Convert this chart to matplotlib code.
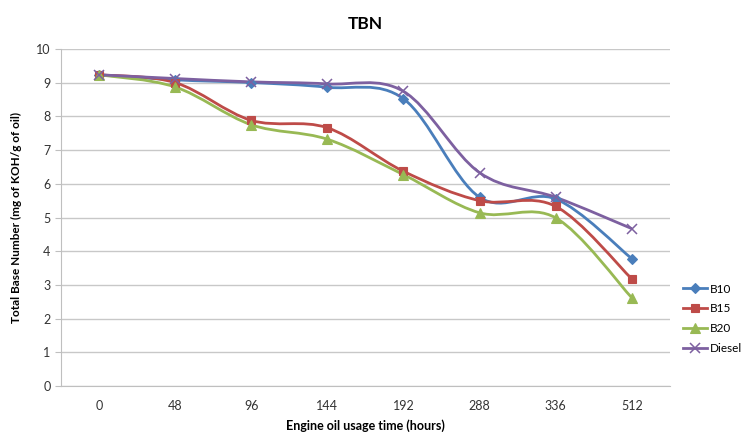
import numpy as np
import matplotlib.pyplot as plt
from matplotlib.path import Path
from matplotlib.patches import PathPatch

plt.rcParams['font.family'] = ['Lato', 'DejaVu Sans']

##### DATA ######
hours = ['0', '48', '96', '144', '192', '288', '336', '512']
b10 = [9.23, 9.08, 9.0, 8.86, 8.52, 5.6, 5.55, 3.78]
b15 = [9.23, 9.0, 7.88, 7.66, 6.37, 5.5, 5.33, 3.18]
b20 = [9.23, 8.87, 7.75, 7.32, 6.27, 5.14, 4.99, 2.62]
diesel = [9.23, 9.12, 9.02, 8.96, 8.74, 6.33, 5.6, 4.67]

series = [('B10', b10, '#4A7EBB', 'D', 5),
          ('B15', b15, '#BE4B48', 's', 6),
          ('B20', b20, '#98B954', '^', 7),
          ('Diesel', diesel, '#7D60A0', 'x', 7)]


def smooth_path(x, y):
    # excel style smoothed line: cubic bezier segments (catmull-rom control points)
    pts = np.column_stack([x, y]).astype(float)
    n = len(pts)
    verts = [pts[0]]
    codes = [Path.MOVETO]
    for i in range(n - 1):
        p0 = pts[i - 1] if i > 0 else pts[i]
        p1 = pts[i]
        p2 = pts[i + 1]
        p3 = pts[i + 2] if i + 2 < n else pts[i + 1]
        c1 = p1 + (p2 - p0) / 6.0
        c2 = p2 - (p3 - p1) / 6.0
        verts += [c1, c2, p2]
        codes += [Path.CURVE4] * 3
    return Path(verts, codes)


fig = plt.figure(figsize=(7.51, 4.32), dpi=100)
ax = fig.add_axes([0.081, 0.106, 0.811, 0.781])

xpos = np.arange(len(hours))
for name, vals, col, mk, ms in series:
    patch = PathPatch(smooth_path(xpos, vals), facecolor='none', edgecolor=col,
                      lw=2.0, zorder=3)
    ax.add_patch(patch)
    # markers only, the curve is the patch underneath
    ax.plot(xpos, vals, linestyle='none', color=col, marker=mk, ms=ms,
            mew=1.1 if mk == 'x' else 0.8, label=name, zorder=4)

# legend handles with lines
handles = [plt.Line2D([], [], color=c, lw=2.0, marker=m, ms=s,
                      mew=1.1 if m == 'x' else 0.8)
           for _, _, c, m, s in series]
fig.legend(handles, [s[0] for s in series], loc='upper left',
           bbox_to_anchor=(0.9, 0.36), frameon=False, fontsize=8.5,
           handlelength=2.0, handletextpad=0.25, labelspacing=0.75,
           borderaxespad=0.2)

ax.set_xlim(-0.5, len(hours) - 0.5)
ax.set_ylim(0, 10)
ax.set_xticks(xpos)
ax.set_xticklabels(hours)
ax.set_yticks(range(0, 11))
ax.tick_params(axis='x', length=0, labelsize=9, pad=10, labelcolor='#333333')
ax.tick_params(axis='y', length=4, labelsize=9, color='#bfbfbf', labelcolor='#333333')
ax.grid(axis='y', color='#c8c8c8', lw=1.0)
ax.set_axisbelow(True)
for side in ['top', 'right']:
    ax.spines[side].set_visible(False)
for side in ['left', 'bottom']:
    ax.spines[side].set_color('#bfbfbf')

ax.set_title('TBN', fontsize=12.5, fontweight='bold', pad=14)
ax.set_xlabel('Engine oil usage time (hours)', fontsize=9, fontweight='bold', labelpad=5)
ax.set_ylabel('Total Base Number (mg of KOH/g of oil)', fontsize=8.5, fontweight='bold', labelpad=10)

fig.savefig('out.png', dpi=100)
